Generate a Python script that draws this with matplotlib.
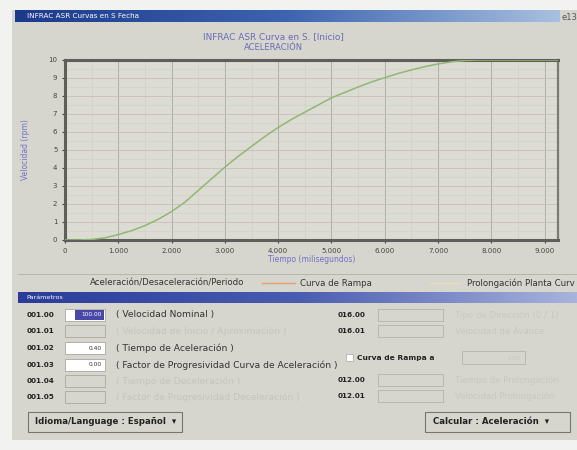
import numpy as np
import matplotlib.pyplot as plt
from matplotlib.patches import Rectangle
from matplotlib.colors import LinearSegmentedColormap

# ------------------------------
# Data
# ------------------------------
tiempo = [0, 0.25, 0.5, 0.75, 1.0, 1.25, 1.5, 1.75, 2.0, 2.25, 2.5, 2.75, 3.0, 3.25, 3.5, 3.75,
          4.0, 4.25, 4.5, 4.75, 5.0, 5.25, 5.5, 5.75, 6.0, 6.25, 6.5, 6.75, 7.0, 7.25, 7.5, 7.75,
          8.0, 8.5, 9.0, 9.25]
velocidad = [0, 0, 0.03, 0.12, 0.3, 0.52, 0.8, 1.15, 1.58, 2.1, 2.75, 3.4, 4.05, 4.65, 5.2, 5.75,
             6.25, 6.7, 7.1, 7.5, 7.9, 8.2, 8.5, 8.78, 9.02, 9.25, 9.45, 9.63, 9.78, 9.9, 9.97, 10,
             10, 10, 10, 10]
x_ticks = [0, 1, 2, 3, 4, 5, 6, 7, 8, 9]
x_labels = ["0", "1.000", "2.000", "3.000", "4.000", "5.000", "6.000", "7.000", "8.000", "9.000"]
y_ticks = list(range(11))

izq_codigos = ["001.00", "001.01", "001.02", "001.03", "001.04", "001.05"]
izq_valores = ["100.00", "", "0.40", "0.00", "", ""]
izq_textos = ["( Velocidad Nominal )", "( Velocidad de Inicio / Aproximación )",
              "( Tiempo de Aceleración )", "( Factor de Progresividad Curva de Aceleración )",
              "( Tiempo de Deceleración )", "( Factor de Progresividad Deceleración )"]
izq_activos = [True, False, True, True, False, False]

W, H = 577, 450
BG = "#d6d6ce"

fig = plt.figure(figsize=(W / 100, H / 100), dpi=100)
fig.patch.set_facecolor("#f2f2f0")


def fx(x):
    return x / W


def fy(y):
    return 1 - y / H


def rect(x0, y0, x1, y1, **kw):
    fig.patches.append(Rectangle((fx(x0), fy(y1)), fx(x1 - x0), (y1 - y0) / H,
                                 transform=fig.transFigure, **kw))


def txt(x, y, s, **kw):
    kw.setdefault("fontsize", 6)
    kw.setdefault("va", "center")
    fig.text(fx(x), fy(y), s, **kw)


# window body (behind everything)
rect(12, 10, 577, 440, facecolor=BG, edgecolor="none", zorder=-10)

# title bar with gradient
grad = np.linspace(0, 1, 256).reshape(1, -1)
ax_t = fig.add_axes([fx(15), fy(22), fx(560 - 15), 12 / H])
ax_t.imshow(grad, aspect="auto", cmap=LinearSegmentedColormap.from_list(
    "t", ["#1c3a8c", "#3d64b0", "#a8c0e0"]), extent=[0, 1, 0, 1])
ax_t.axis("off")
ax_t.text(0.022, 0.5, "INFRAC ASR Curvas en S Fecha", color="white", fontsize=5.2,
          va="center", transform=ax_t.transAxes)
txt(562, 17, "e13", color="#555555", fontsize=6)

# chart titles
txt(273, 37, "INFRAC ASR Curva en S. [Inicio]", color="#6a6ab8", fontsize=6.4, ha="center")
txt(274, 47, "ACELERACIÓN", color="#6a6ab8", fontsize=6, ha="center")

# ------------------------------
# Chart
# ------------------------------
ax = fig.add_axes([fx(65), fy(240), fx(558 - 65), (240 - 60) / H])
ax.set_facecolor("#dcdcd4")
ax.plot(tiempo, velocidad, color="#8fb870", lw=1.1, zorder=3)
ax.set_xlim(0, 9.25)
ax.set_ylim(0, 10)
ax.set_xticks(x_ticks)
ax.set_xticklabels(x_labels)
ax.set_yticks(y_ticks)
ax.set_xticks(np.arange(0.5, 9.25, 1.0), minor=True)
ax.set_yticks(np.arange(0.5, 10, 1.0), minor=True)
ax.grid(True, which="major", axis="x", color="#aeaea6", lw=0.7)
ax.grid(True, which="major", axis="y", color="#c8bebc", lw=0.6)
ax.grid(True, which="minor", color="#d2ccc8", lw=0.4)
ax.tick_params(labelsize=5, colors="#444444", length=2)
ax.tick_params(which="minor", length=0)
for side in ["left", "bottom", "top"]:
    ax.spines[side].set_linewidth(2.2)
    ax.spines[side].set_color("#5e5e5a")
ax.spines["right"].set_linewidth(1.6)
ax.spines["right"].set_color("#7a7a76")
ax.set_xlabel("Tiempo (milisegundos)", fontsize=5.5, color="#7070c8", labelpad=1)
ax.set_ylabel("Velocidad (rpm)", fontsize=5.5, color="#7070c8", labelpad=13)

# legend row
fig.lines.append(plt.Line2D([fx(18), fx(577)], [fy(274), fy(274)], transform=fig.transFigure,
                            color="#b0b0a8", lw=0.6))
txt(167, 283, "Aceleración/Desaceleración/Periodo", color="#333333", fontsize=6.2, ha="center")
fig.lines.append(plt.Line2D([fx(262), fx(295)], [fy(283), fy(283)], transform=fig.transFigure,
                            color="#e8a070", lw=1.0))
txt(300, 283, "Curva de Rampa", color="#333333", fontsize=6.2)
fig.lines.append(plt.Line2D([fx(430), fx(460)], [fy(283), fy(283)], transform=fig.transFigure,
                            color="#e4e0b8", lw=1.0))
txt(467, 283, "Prolongación Planta Curv", color="#333333", fontsize=6.2)

# ------------------------------
# Parameters panel
# ------------------------------
ax_p = fig.add_axes([fx(18), fy(303), fx(577 - 18), 11 / H])
ax_p.imshow(grad, aspect="auto", cmap=LinearSegmentedColormap.from_list(
    "p", ["#2a3c98", "#4a5cb0", "#a8b4dc"]), extent=[0, 1, 0, 1])
ax_p.axis("off")
ax_p.text(0.015, 0.5, "Parámetros", color="white", fontsize=4.6, va="center",
          transform=ax_p.transAxes)

filas_y = [315, 331, 348, 365, 381, 397]
for i, y in enumerate(filas_y):
    txt(27, y, izq_codigos[i], color="#222222", fontweight="bold", fontsize=5.2)
    activo = izq_activos[i]
    rect(65, y - 6, 105, y + 6, facecolor="white" if activo else BG,
         edgecolor="#a8a8a0", lw=0.6)
    if i == 0:
        rect(75, y - 5, 104, y + 5, facecolor="#4848a8", edgecolor="none")
        txt(102, y, izq_valores[i], color="white", fontsize=4.2, ha="right")
    elif izq_valores[i]:
        txt(102, y, izq_valores[i], color="#333333", fontsize=4.2, ha="right")
    txt(116, y, izq_textos[i], color="#333333" if activo else "#c4c4bc", fontsize=6.6)

# right column
der = [("016.00", 315, "Tipo de Dirección (0 / 1)"), ("016.01", 331, "Velocidad de Avance"),
       ("012.00", 380, "Tiempo de Prolongación"), ("012.01", 396, "Velocidad Prolongación")]
for cod, y, s in der:
    txt(338, y, cod, color="#222222", fontweight="bold", fontsize=5.2)
    rect(378, y - 6, 443, y + 6, facecolor=BG, edgecolor="#b4b4ac", lw=0.6)
    txt(455, y, s, color="#c8c8c0", fontsize=6.2)

rect(346, 354, 353, 361, facecolor="white", edgecolor="#a8a8a0", lw=0.5)
txt(357, 358, "Curva de Rampa a", color="#222222", fontweight="bold", fontsize=5.4)
rect(462, 351, 525, 364, facecolor=BG, edgecolor="#b4b4ac", lw=0.6)
txt(520, 358, "1.00", color="#c4c4bc", fontsize=4.2, ha="right")

# buttons
rect(28, 412, 182, 432, facecolor=BG, edgecolor="#777770", lw=0.8)
txt(35, 422, "Idioma/Language : Español  ▾", color="#222222", fontweight="bold", fontsize=6.2)
rect(425, 412, 570, 432, facecolor=BG, edgecolor="#777770", lw=0.8)
txt(433, 422, "Calcular : Aceleración  ▾", color="#222222", fontweight="bold", fontsize=6.2)

fig.savefig("out.png", dpi=100, facecolor=fig.get_facecolor())
